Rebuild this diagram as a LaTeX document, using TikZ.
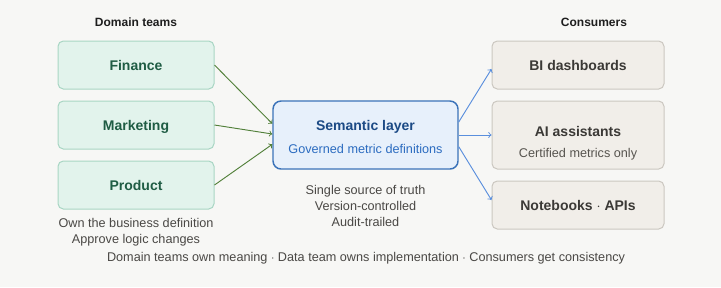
\documentclass[tikz,border=0pt]{standalone}
\usepackage{fontspec}
\setmainfont{Liberation Sans}
\definecolor{bg}{HTML}{F7F7F5}
\definecolor{teamfill}{HTML}{E2F3EC}
\definecolor{teamline}{HTML}{A9D6C4}
\definecolor{teamtext}{HTML}{1F5C44}
\definecolor{semfill}{HTML}{E7F0FB}
\definecolor{semline}{HTML}{3B73B9}
\definecolor{semtitle}{HTML}{1C4A85}
\definecolor{semsub}{HTML}{2C6CC0}
\definecolor{usefill}{HTML}{F1EEE9}
\definecolor{useline}{HTML}{CCC8C1}
\definecolor{usetext}{HTML}{3B3936}
\definecolor{usesub}{HTML}{57544F}
\definecolor{notetext}{HTML}{4A4845}
\definecolor{headtext}{HTML}{1E1E1E}
\definecolor{greenarrow}{HTML}{52803A}
\definecolor{bluearrow}{HTML}{5A8FDD}
\begin{document}
\begin{tikzpicture}[x=0.75pt, y=-0.75pt,
  team/.style={draw=teamline, fill=teamfill, line width=0.75pt, rounded corners=4pt,
    minimum width=117pt, minimum height=36pt, text=teamtext, text depth=0pt,
    font=\fontsize{10.5}{12}\selectfont\bfseries},
  consumer/.style={draw=useline, fill=usefill, line width=0.75pt, rounded corners=4pt,
    minimum width=129pt, minimum height=36pt, text=usetext, text depth=0pt,
    font=\fontsize{10.5}{12}\selectfont\bfseries},
  note/.style={text=notetext, align=center, inner sep=0pt,
    font=\fontsize{9.5}{12}\selectfont},
  head/.style={text=headtext, inner sep=0pt, font=\fontsize{9}{11}\selectfont\bfseries},
  feed/.style={->, draw=greenarrow, line width=0.7pt},
  serve/.style={->, draw=bluearrow, line width=0.7pt}]

  \def\xl{136} \def\xm{365.5} \def\xr{578}

  \fill[bg] (0,0) rectangle (721,287);
  \useasboundingbox (0,0) rectangle (721,287);

  \node[head] (domhead) at (\xl,22) {Domain teams};
  \node[head] (conhead) at (594,22) {Consumers};

  \foreach \name/\txt/\y in {fin/Finance/65, mkt/Marketing/125, prd/Product/185} {
    \node[team] (\name) at (\xl,\y) {\txt};
  }
  \node[note] (ownnote) at (\xl,232) {Own the business definition\\Approve logic changes};

  \node[draw=semline, fill=semfill, line width=1.1pt, rounded corners=6pt,
    minimum width=138.75pt, minimum height=51pt] (sem) at (\xm,135) {};
  \node[text=semtitle, font=\fontsize{10.5}{12}\selectfont\bfseries] (semtitle) at (\xm,127) {Semantic layer};
  \node[text=semsub, font=\fontsize{9.5}{12}\selectfont] (semsub) at (\xm,149) {Governed metric definitions};
  \node[note] (semnote) at (\xm,206) {Single source of truth\\Version-controlled\\Audit-trailed};

  \node[consumer] (bi) at (\xr,65) {BI dashboards};
  \node[consumer, minimum height=51pt] (ai) at (\xr,135) {};
  \node[text=usetext, font=\fontsize{10.5}{12}\selectfont\bfseries] (aititle) at (\xr,131) {AI assistants};
  \node[text=usesub, font=\fontsize{9.5}{12}\selectfont] (aisub) at (\xr,154) {Certified metrics only};
  \node[consumer] (nb) at (\xr,205) {Notebooks $\cdot$ APIs};

  % teams feed the layer
  \draw[feed] (fin.east) -- ([yshift=8.5pt]sem.west);
  \draw[feed] (mkt.east) -- ([yshift=0.75pt]sem.west);
  \draw[feed] (prd.east) -- ([yshift=-7pt]sem.west);

  % layer serves consumers
  \draw[serve] ([yshift=9.75pt]sem.east) -- ([yshift=-3pt]bi.west);
  \draw[serve] (sem.east) -- (ai.west);
  \draw[serve] ([yshift=-8.75pt]sem.east) -- ([yshift=3.75pt]nb.west);

  \node[note] (footer) at (366,258) {Domain teams own meaning $\cdot$ Data team owns implementation $\cdot$ Consumers get consistency};

\end{tikzpicture}
\end{document}
